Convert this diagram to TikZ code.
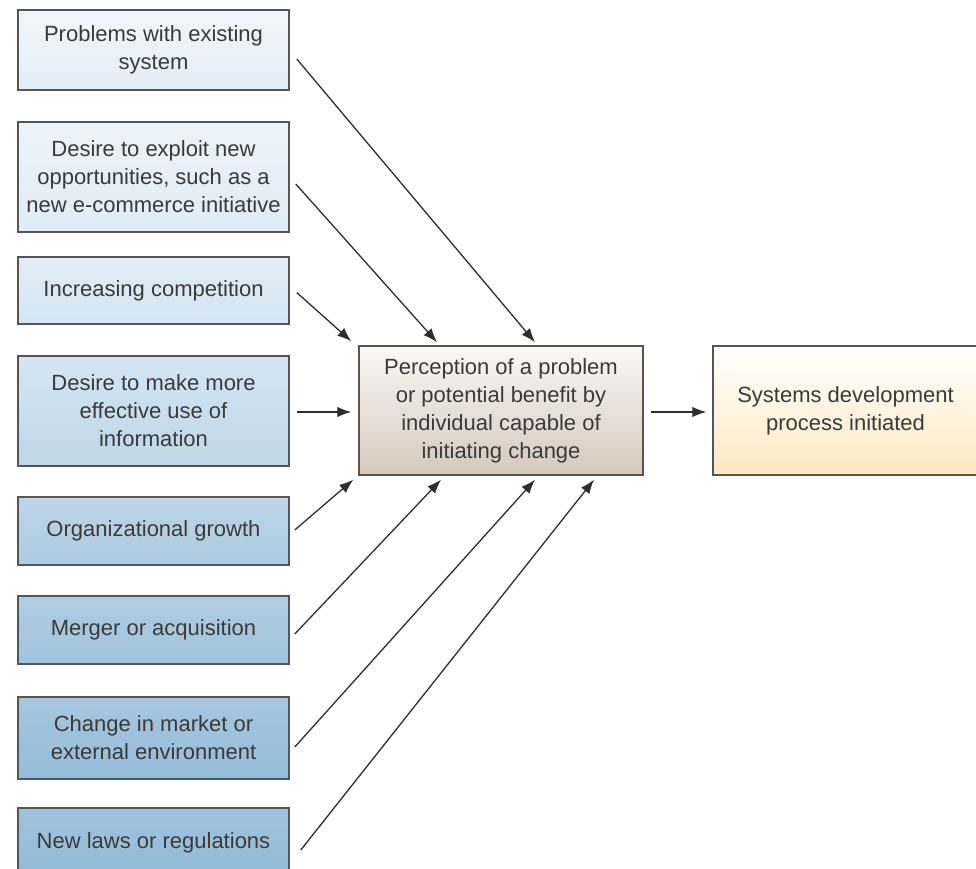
\documentclass[tikz,border=0pt]{standalone}
\usepackage{fontspec}
\setmainfont{Liberation Sans}
\usetikzlibrary{arrows.meta}
\definecolor{txt}{HTML}{3A3A3A}
\definecolor{edge}{HTML}{555555}
\definecolor{wire}{HTML}{2E2E2E}
\begin{document}
\begin{tikzpicture}[x=1pt,y=-1pt,
  box/.style={draw=edge, line width=1.5pt, rectangle, align=center,
    text=txt, font=\fontsize{22}{28}\selectfont, inner sep=0pt},
  cause/.style={box, minimum width=271pt},
  feed/.style={draw=wire, line width=1.3pt, -{Latex[length=14pt,width=10.5pt]}}]
\useasboundingbox (0,0) rectangle (976,869);

% causes, shaded from pale to deeper blue down the column
\node[cause, minimum height=80pt,  top color={rgb,255:red,240;green,246;blue,251}, bottom color={rgb,255:red,228;green,238;blue,247}] (b1) at (153.5,50) {Problems with existing\\system};
\node[cause, minimum height=110pt, top color={rgb,255:red,236;green,243;blue,249}, bottom color={rgb,255:red,224;green,236;blue,246}] (b2) at (153.5,177) {Desire to exploit new\\opportunities, such as a\\new e-commerce initiative};
\node[cause, minimum height=67pt,  top color={rgb,255:red,226;green,237;blue,246}, bottom color={rgb,255:red,212;green,229;blue,241}] (b3) at (153.5,290.5) {Increasing competition};
\node[cause, minimum height=110pt, top color={rgb,255:red,214;green,230;blue,242}, bottom color={rgb,255:red,190;green,214;blue,232}] (b4) at (153.5,411) {Desire to make more\\effective use of\\information};
\node[cause, minimum height=68pt,  top color={rgb,255:red,190;green,214;blue,232}, bottom color={rgb,255:red,172;green,202;blue,224}] (b5) at (153.5,531) {Organizational growth};
\node[cause, minimum height=68pt,  top color={rgb,255:red,176;green,205;blue,227}, bottom color={rgb,255:red,160;green,195;blue,220}] (b6) at (153.5,630) {Merger or acquisition};
\node[cause, minimum height=82pt,  top color={rgb,255:red,166;green,199;blue,223}, bottom color={rgb,255:red,150;green,188;blue,216}] (b7) at (153.5,738) {Change in market or\\external environment};
\node[cause, minimum height=70pt,  top color={rgb,255:red,160;green,195;blue,221}, bottom color={rgb,255:red,146;green,186;blue,215}] (b8) at (153.5,843) {New laws or regulations};

% perception and outcome
\node[box, minimum width=284pt, minimum height=129pt,
  top color={rgb,255:red,250;green,249;blue,247}, bottom color={rgb,255:red,214;green,200;blue,188}]
  (c) at (501,410.5) {Perception of a problem\\or potential benefit by\\individual capable of\\initiating change};
\node[box, minimum width=265pt, minimum height=129pt,
  top color=white, bottom color={rgb,255:red,252;green,232;blue,192}]
  (r) at (845.5,410.5) {Systems development\\process initiated};

% connectors
\draw[feed] ([shift={(7,9)}]b1.east)  -- ([shift={(34,-3)}]c.north);
\draw[feed] ([shift={(6,7)}]b2.east)  -- ([shift={(-64,-3)}]c.north);
\draw[feed] ([shift={(7,2)}]b3.east)  -- ([shift={(-7,-4)}]c.north west);
\draw[feed] ([shift={(7,1)}]b4.east)  -- ([shift={(-7,1.5)}]c.west);
\draw[feed] ([shift={(5,-1)}]b5.east) -- ([shift={(-5,4)}]c.south west);
\draw[feed] ([shift={(5,4)}]b6.east)  -- ([shift={(-60,4)}]c.south);
\draw[feed] ([shift={(5,9)}]b7.east)  -- ([shift={(34,4)}]c.south);
\draw[feed] ([shift={(11,7)}]b8.east) -- ([shift={(93,4)}]c.south);
\draw[feed] ([shift={(7,1.5)}]c.east) -- ([shift={(-6,1.5)}]r.west);
\end{tikzpicture}
\end{document}
